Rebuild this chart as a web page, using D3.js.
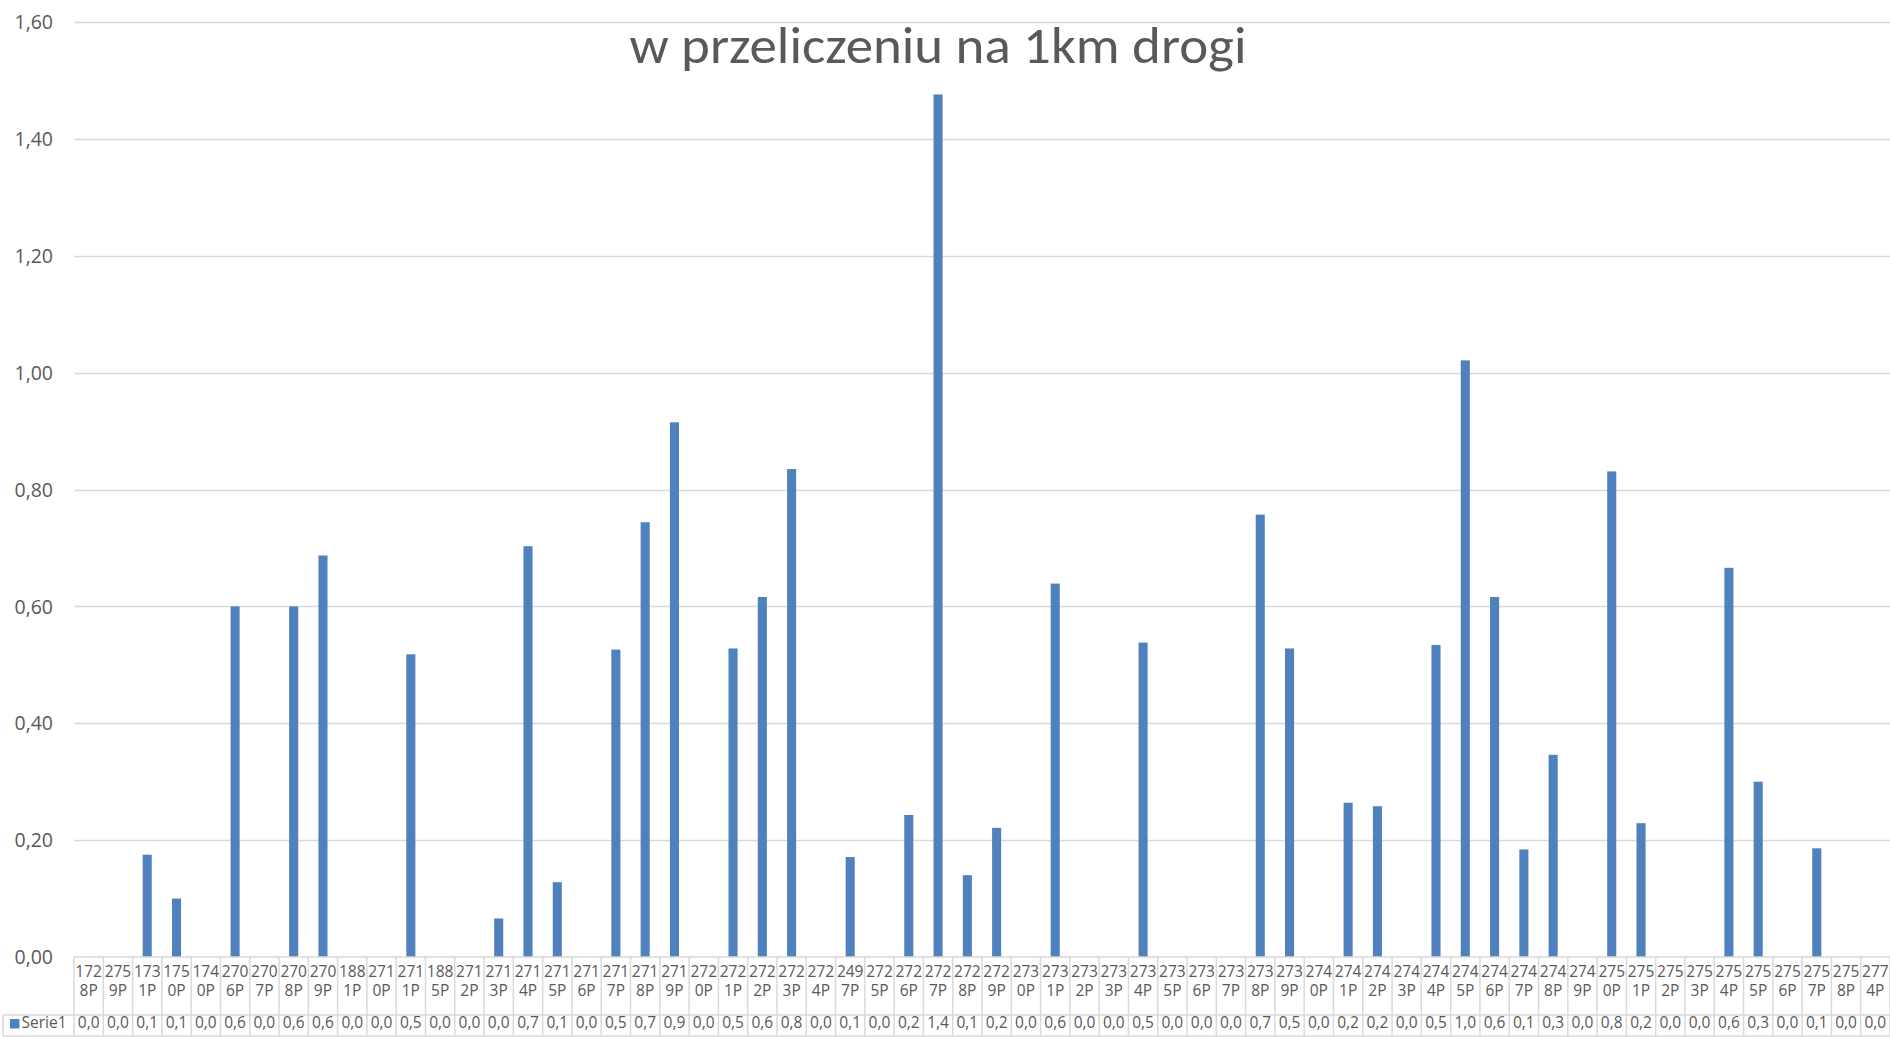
<!DOCTYPE html>
<html>
<head>
<meta charset="utf-8">
<script src="https://cdn.jsdelivr.net/npm/d3@7"></script>
<style>
  html, body { margin: 0; padding: 0; background: #fff; overflow: hidden; }
  svg { display: block; }
</style>
</head>
<body>
<svg id="chart" width="1890" height="1037"></svg>
<script>
const categories = ["1728P","2759P","1731P","1750P","1740P","2706P","2707P","2708P","2709P","1881P",
  "2710P","2711P","1885P","2712P","2713P","2714P","2715P","2716P","2717P","2718P",
  "2719P","2720P","2721P","2722P","2723P","2724P","2497P","2725P","2726P","2727P",
  "2728P","2729P","2730P","2731P","2732P","2733P","2734P","2735P","2736P","2737P",
  "2738P","2739P","2740P","2741P","2742P","2743P","2744P","2745P","2746P","2747P",
  "2748P","2749P","2750P","2751P","2752P","2753P","2754P","2755P","2756P","2757P",
  "2758P","2774P"];
const serie1 = [0, 0, 0.175, 0.10, 0, 0.60, 0, 0.60, 0.687, 0,
  0, 0.518, 0, 0, 0.066, 0.703, 0.128, 0, 0.526, 0.744,
  0.915, 0, 0.528, 0.616, 0.835, 0, 0.171, 0, 0.243, 1.476,
  0.140, 0.221, 0, 0.639, 0, 0, 0.538, 0, 0, 0,
  0.757, 0.528, 0, 0.264, 0.258, 0, 0.534, 1.021, 0.616, 0.184,
  0.346, 0, 0.831, 0.229, 0, 0, 0.666, 0.30, 0, 0.186,
  0, 0];
const seriesName = "Serie1";
const yTicks = [0, 0.2, 0.4, 0.6, 0.8, 1.0, 1.2, 1.4, 1.6];
const titleLine2 = "w przeliczeniu na 1km drogi";

(function () {
const svg = d3.select("#chart");
const plotLeft = 74, plotRight = 1890, plotTop = 22, plotBottom = 957;
const gridColor = "#d9d9d9", textColor = "#595959", barColor = "#4F81BD";
const fontTicks = "'Open Sans', 'Noto Sans', sans-serif";

const y = d3.scaleLinear().domain([0, 1.6]).range([plotBottom, plotTop]);
const xCol = d3.scaleBand().domain(categories).range([plotLeft, plotRight]).padding(0);
const xBar = d3.scaleBand().domain(categories).range([plotLeft, plotRight]).paddingInner(0.69).paddingOuter(0.345);

// gridlines
svg.append("g").selectAll("line").data(yTicks.filter(d => d > 0)).join("line")
  .attr("x1", plotLeft).attr("x2", plotRight)
  .attr("y1", d => Math.round(y(d)) + 0.5).attr("y2", d => Math.round(y(d)) + 0.5)
  .attr("stroke", gridColor).attr("stroke-width", 1.3);

// y axis labels
const fmt2 = d => d3.format(".2f")(d).replace(".", ",");
const yAxis = d3.axisLeft(y).tickValues(yTicks).tickFormat(fmt2).tickSize(0).tickPadding(0);
const gy = svg.append("g").attr("transform", `translate(53,0)`).call(yAxis);
gy.select(".domain").remove();
gy.selectAll("text").attr("fill", textColor).style("font-family", fontTicks).style("font-size", "19.5px")
  .attr("dy", "0.34em");

// title (second line visible; first line lies above the visible area)
svg.append("text")
  .attr("x", 938).attr("y", 63)
  .attr("text-anchor", "middle")
  .attr("fill", textColor)
  .style("font-family", "Carlito, Calibri, 'Open Sans', sans-serif")
  .style("font-size", "51px")
  .attr("textLength", 617).attr("lengthAdjust", "spacingAndGlyphs")
  .text(titleLine2);

// bars
svg.append("g").selectAll("rect").data(categories.map((c, i) => ({c, v: serie1[i]}))).join("rect")
  .attr("x", d => xBar(d.c))
  .attr("width", xBar.bandwidth())
  .attr("y", d => y(d.v))
  .attr("height", d => plotBottom - y(d.v))
  .attr("fill", barColor);

// data table
const tbl = svg.append("g");
const headerTop = plotBottom, headerBottom = 1015, rowBottom = 1036, legendLeft = 3;
const lineAttr = sel => sel.attr("stroke", gridColor).attr("stroke-width", 1.5).attr("fill", "none");

tbl.append("line").attr("x1", plotLeft).attr("x2", plotRight).attr("y1", headerTop).attr("y2", headerTop).call(lineAttr);
tbl.append("line").attr("x1", legendLeft).attr("x2", plotRight).attr("y1", headerBottom).attr("y2", headerBottom).call(lineAttr);
tbl.append("line").attr("x1", legendLeft).attr("x2", plotRight).attr("y1", rowBottom).attr("y2", rowBottom).call(lineAttr);
const vx = categories.map(c => xCol(c)).concat([plotRight]);
tbl.selectAll("line.v").data(vx).join("line").attr("class", "v")
  .attr("x1", d => d).attr("x2", d => d).attr("y1", headerTop).attr("y2", rowBottom).call(lineAttr);
tbl.append("line").attr("x1", legendLeft).attr("x2", legendLeft).attr("y1", headerBottom).attr("y2", rowBottom).call(lineAttr);

// header labels (wrapped)
const hdr = tbl.append("g").selectAll("text").data(categories).join("text")
  .attr("text-anchor", "middle")
  .attr("fill", textColor)
  .style("font-family", fontTicks).style("font-size", "15.5px");
hdr.append("tspan").attr("x", d => xCol(d) + xCol.bandwidth() / 2).attr("y", 976.5).text(d => d.slice(0, 3));
hdr.append("tspan").attr("x", d => xCol(d) + xCol.bandwidth() / 2).attr("y", 995.5).text(d => d.slice(3));

// row values (truncated to one decimal as shown)
const fmt1 = v => (Math.floor(v * 10 + 1e-9) / 10).toFixed(1).replace(".", ",");
tbl.append("g").selectAll("text").data(categories.map((c, i) => ({c, v: serie1[i]}))).join("text")
  .attr("x", d => xCol(d.c) + xCol.bandwidth() / 2)
  .attr("y", 1028)
  .attr("text-anchor", "middle")
  .attr("fill", textColor)
  .style("font-family", fontTicks).style("font-size", "15.5px")
  .text(d => fmt1(d.v));

// legend key
tbl.append("rect").attr("x", 10).attr("y", 1019).attr("width", 9.5).attr("height", 9.5).attr("fill", barColor);
tbl.append("text").attr("x", 21.5).attr("y", 1028)
  .attr("fill", textColor)
  .style("font-family", fontTicks).style("font-size", "15.5px")
  .text(seriesName);
})();
</script>
</body>
</html>
